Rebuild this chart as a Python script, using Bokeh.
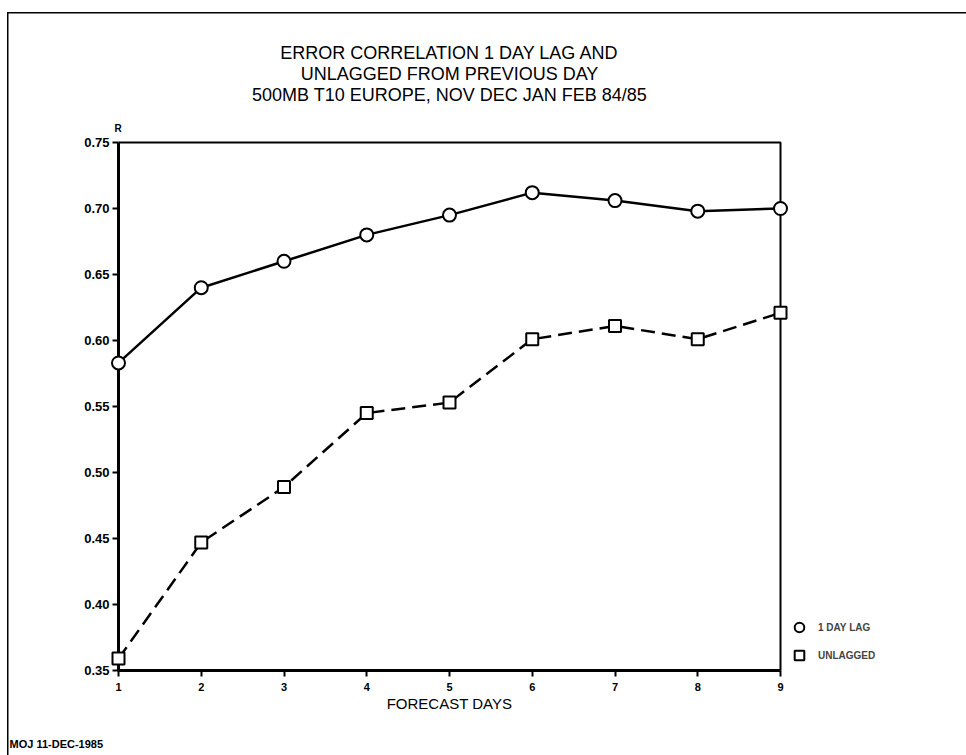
from bokeh.plotting import figure
from bokeh.models import (Legend, LegendItem, FixedTicker, PrintfTickFormatter,
                          LinearAxis, Range1d, Title)
from bokeh.embed import file_html
from bokeh.resources import INLINE

# Forecast day and error correlation R for each series
days = [1, 2, 3, 4, 5, 6, 7, 8, 9]
lag_1day = [0.583, 0.640, 0.660, 0.680, 0.695, 0.712, 0.706, 0.698, 0.700]
unlagged = [0.359, 0.447, 0.489, 0.545, 0.553, 0.601, 0.611, 0.601, 0.621]

y_ticks = [0.35, 0.40, 0.45, 0.50, 0.55, 0.60, 0.65, 0.70, 0.75]

title_lines = ["ERROR CORRELATION 1 DAY LAG AND",
               "UNLAGGED FROM PREVIOUS DAY",
               "500MB T10 EUROPE, NOV DEC JAN FEB 84/85"]
series_names = ["1 DAY LAG", "UNLAGGED"]
stamp = "MOJ 11-DEC-1985"

W, H = 966, 755
X0, X1, Y0, Y1 = 1, 9, 0.35, 0.75
# axis box on the canvas (pixels); the frame is a little larger so that the
# markers sitting on the box edges are drawn whole
LEFT, RIGHT, TOP, BOTTOM = 118, 780, 142, 670
PAD = 8
TICK = 6
sx = (RIGHT - LEFT) / (X1 - X0)
sy = (BOTTOM - TOP) / (Y1 - Y0)

FONT = "Liberation Sans"

p = figure(frame_width=RIGHT - LEFT + 2 * PAD, frame_height=BOTTOM - TOP + 2 * PAD,
           output_backend="svg", toolbar_location=None,
           x_range=Range1d(X0 - PAD / sx, X1 + PAD / sx),
           y_range=Range1d(Y0 - PAD / sy, Y1 + PAD / sy),
           x_axis_location=None, y_axis_location=None,
           min_border_left=LEFT - PAD, min_border_right=W - RIGHT - PAD,
           min_border_top=TOP - PAD, min_border_bottom=H - BOTTOM - PAD)
p.background_fill_color = "white"
p.border_fill_color = "white"
p.border_fill_alpha = 0
p.grid.visible = False
p.outline_line_color = None
# page edge of the plotter sheet
p.styles = {"background": ("linear-gradient(#000,#000) 7px 12px / 1.5px 743px no-repeat, "
                           "linear-gradient(#000,#000) 7px 12px / 959px 1.5px no-repeat, #fff")}


def style_axis(ax, size):
    ax.axis_line_color = None
    ax.major_tick_line_width = 2
    ax.major_tick_line_color = "black"
    ax.major_tick_in = PAD
    ax.major_tick_out = TICK - PAD
    ax.minor_tick_line_color = None
    ax.major_label_text_font = FONT
    ax.major_label_text_font_style = "bold"
    ax.major_label_text_font_size = size
    ax.major_label_text_color = "black"


def gap(height):
    """Blank title used as vertical spacing in a side panel."""
    return Title(text=" ", text_font_size="1px", standoff=height)


xaxis = LinearAxis(ticker=FixedTicker(ticks=days))
style_axis(xaxis, "11px")
xaxis.major_label_standoff = 4
xaxis.axis_label = "FORECAST DAYS"
xaxis.axis_label_text_font = FONT
xaxis.axis_label_text_font_style = "normal"
xaxis.axis_label_text_font_size = "15px"
xaxis.axis_label_text_color = "black"
xaxis.axis_label_standoff = 1
p.add_layout(xaxis, "below")

yaxis = LinearAxis(ticker=FixedTicker(ticks=y_ticks),
                   formatter=PrintfTickFormatter(format="%.2f"))
style_axis(yaxis, "13px")
yaxis.major_label_standoff = 1
p.add_layout(yaxis, "left")

# axis box: heavy left and bottom sides, lighter top and right sides
p.line([X0, X0, X1], [Y1, Y0, Y0], line_color="black", line_width=3)
p.line([X0, X1, X1], [Y1, Y1, Y0], line_color="black", line_width=2)

# series
p.line(days, lag_1day, line_color="black", line_width=2.5)
r_lag = p.scatter(days, lag_1day, marker="circle", size=13, fill_color="white",
                  line_color="black", line_width=2)
p.line(days, unlagged, line_color="black", line_width=2.5, line_dash="14 7")
r_unl = p.scatter(days, unlagged, marker="square", size=12, fill_color="white",
                  line_color="black", line_width=2)

# "R" just above the y axis, then the three title lines (outermost last)
p.add_layout(Title(text="R", align="left", offset=PAD - 4, text_font=FONT,
                   text_font_size="10px", text_font_style="bold",
                   text_color="black", standoff=2), "above")
p.add_layout(gap(12), "above")
for line in reversed(title_lines):
    p.add_layout(Title(text=line, align="center", offset=1, text_font=FONT,
                       text_font_size="18px", text_font_style="normal",
                       text_color="black", standoff=-1), "above")

# plot stamp at the foot of the sheet
p.add_layout(gap(18), "below")
p.add_layout(Title(text=stamp, align="left", offset=-(LEFT - PAD) + 9,
                   text_font=FONT, text_font_size="11px", text_font_style="bold",
                   text_color="black", standoff=0), "below")

legend = Legend(items=[LegendItem(label=series_names[0], renderers=[r_lag]),
                       LegendItem(label=series_names[1], renderers=[r_unl])],
                location=(-1, 9), orientation="vertical",
                glyph_width=24, glyph_height=28, spacing=0, padding=0, margin=0,
                label_text_font=FONT, label_text_font_size="10px",
                label_text_font_style="bold", label_standoff=7,
                border_line_color=None, background_fill_alpha=0)
p.add_layout(legend, "right")

open("out.html", "w").write(file_html(p, INLINE))
